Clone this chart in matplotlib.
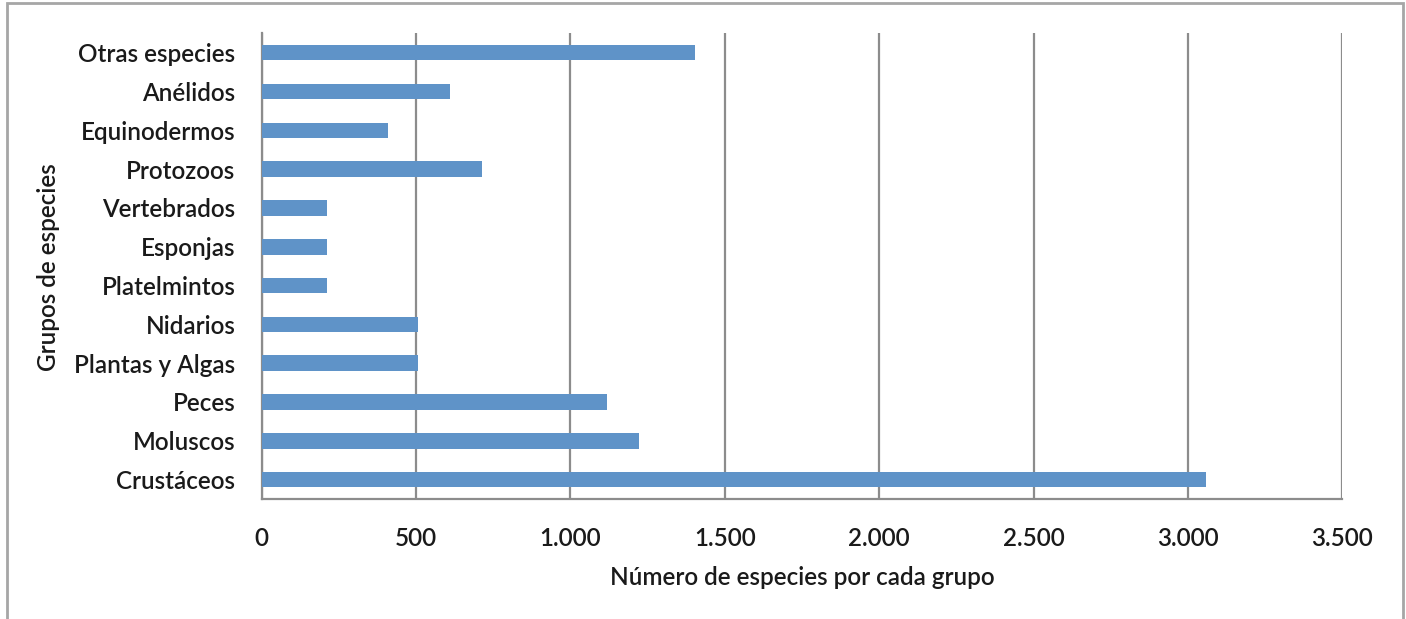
import matplotlib
matplotlib.use("Agg")
import matplotlib.pyplot as plt
from matplotlib.patches import Rectangle
from matplotlib.ticker import FuncFormatter

categories = ["Crustáceos", "Moluscos", "Peces", "Plantas y Algas", "Nidarios",
              "Platelmintos", "Esponjas", "Vertebrados", "Protozoos",
              "Equinodermos", "Anélidos", "Otras especies"]
values = [3058, 1222, 1117, 505, 505, 213, 213, 213, 713, 410, 610, 1404]
xticks = [0, 500, 1000, 1500, 2000, 2500, 3000, 3500]
xlabel = "Número de especies por cada grupo"
ylabel = "Grupos de especies"

plt.rcParams['font.family'] = ['Lato', 'DejaVu Sans']
W, H = 1406, 619
FS = 17.5
FW = "semibold"
fig = plt.figure(figsize=(W / 100, H / 100), dpi=100)
fig.patch.set_facecolor("white")

# outer frame
fig.add_artist(Rectangle((7 / W, -0.05), (1403 - 7) / W, 1.05 - 3 / H,
                         transform=fig.transFigure, fill=False,
                         edgecolor="#a6a6a6", linewidth=2))

ax = fig.add_axes([261.7 / W, (H - 499) / H, (1342.3 - 261.7) / W, (499 - 33.3) / H])
ypos = list(range(len(categories)))
ax.barh(ypos, values, height=0.40, color="#5f93c8", zorder=3)
ax.set_xlim(0, 3500)
ax.set_ylim(-0.5, len(categories) - 0.5)
ax.set_xticks(xticks)
ax.xaxis.set_major_formatter(FuncFormatter(lambda v, p: f"{int(v):,}".replace(",", ".")))
ax.set_yticks(ypos)
ax.set_yticklabels(categories)
ax.grid(axis="x", color="#8c8c8c", linewidth=1.6, zorder=1)
ax.tick_params(axis="both", length=0, labelsize=FS, colors="#1a1a1a")
ax.tick_params(axis="x", pad=20)
ax.tick_params(axis="y", pad=19)
for lab in ax.get_xticklabels() + ax.get_yticklabels():
    lab.set_fontweight(FW)
for s in ["top", "right"]:
    ax.spines[s].set_visible(False)
for s in ["left", "bottom"]:
    ax.spines[s].set_color("#8c8c8c")
    ax.spines[s].set_linewidth(1.6)

ax.set_xlabel(xlabel, fontsize=FS, fontweight=FW, color="#1a1a1a", labelpad=12)
fig.text(48 / W, 1 - 267 / H, ylabel, rotation=90, fontsize=FS, fontweight=FW,
         color="#1a1a1a", ha="center", va="center")

fig.savefig("out.png", dpi=100)
